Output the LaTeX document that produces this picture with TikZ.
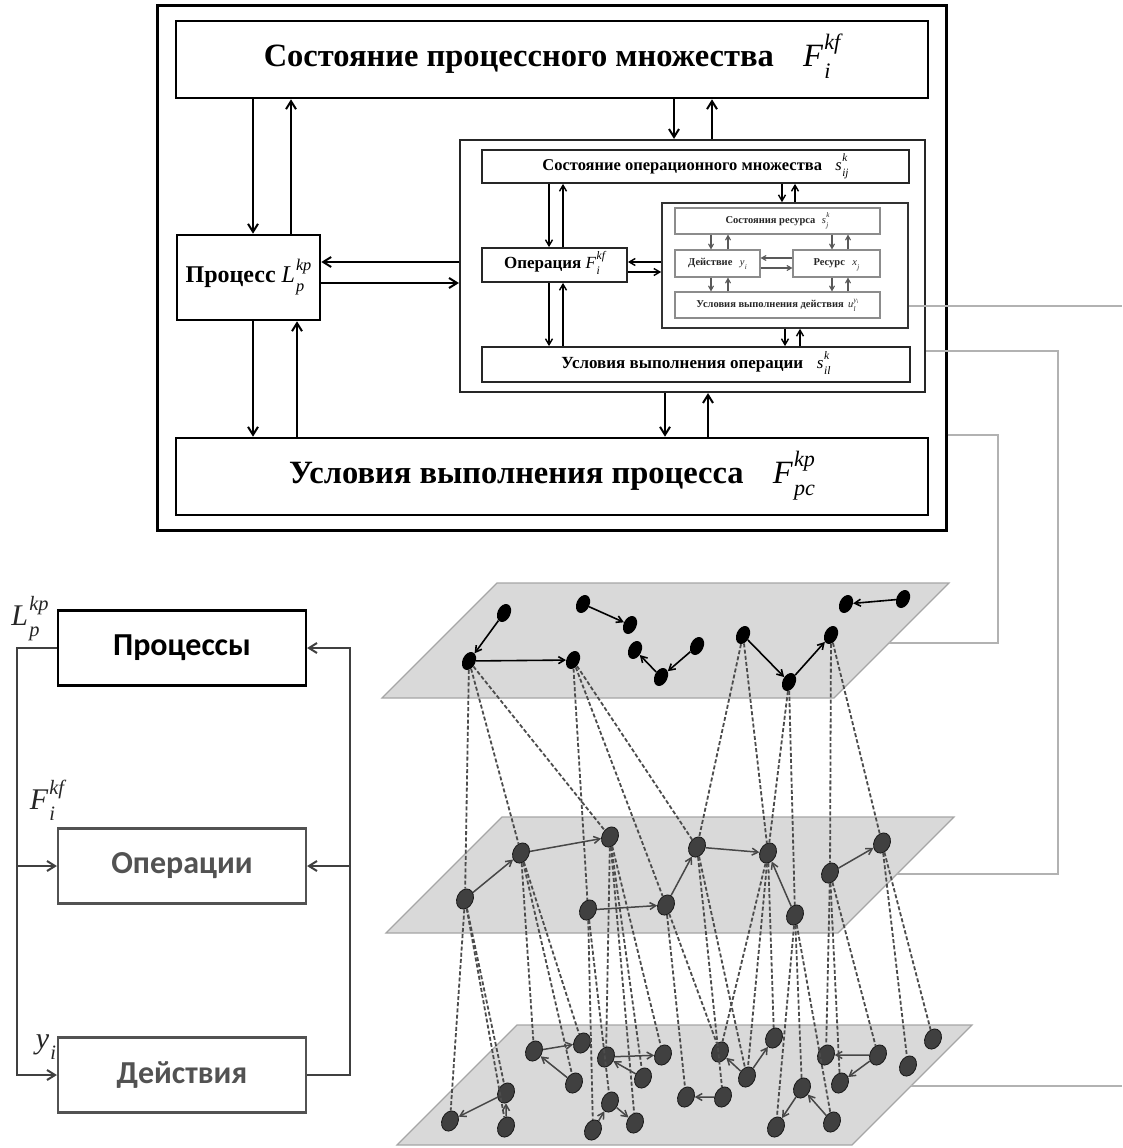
\documentclass[tikz,border=0pt]{standalone}
\usepackage{fontspec}
\usepackage{graphicx}
\setmainfont{Liberation Serif}
\newfontfamily\carl{Carlito}
\usetikzlibrary{arrows.meta,shapes.geometric}
\newcommand\xss[3]{{\normalfont\itshape #1}\kern0.04em\ooalign{\raisebox{-0.36em}{\scalebox{0.68}{\normalfont\itshape #2}}\cr\raisebox{0.52em}{\scalebox{0.68}{\normalfont\itshape #3}}\cr}}
\begin{document}
\begin{tikzpicture}[x=1pt,y=-1pt,
 bigbox/.style={draw=black, line width=2.6pt, inner sep=0pt, font=\bfseries\fontsize{32.5}{38}\selectfont},
 obox/.style={draw=black!85, line width=1.8pt, inner sep=0pt, font=\bfseries\fontsize{16.5}{19}\selectfont},
 abox/.style={draw=black!45, line width=1.1pt, inner sep=0pt, font=\bfseries\fontsize{10.5}{12}\selectfont, text=black!85},
 tarr/.style={line width=2pt, -{Straight Barb[length=8pt,width=10pt]}},
 oarr/.style={line width=1.4pt, -{Straight Barb[length=6pt,width=7pt]}},
 aarr/.style={line width=1.1pt, draw=black!65, -{Straight Barb[length=4.5pt,width=5pt]}},
 gcon/.style={draw=black!30, line width=1.2pt},
 gtip/.style={-{Stealth[length=6pt,width=5pt,color=black!75]}},
 plane/.style={fill=black!15, draw=black!35, line width=1.2pt},
 n1/.style={ellipse, fill=black, minimum width=13pt, minimum height=19pt, inner sep=0pt, rotate=-25},
 n2/.style={ellipse, fill=black!75, draw=black!90, line width=0.8pt, minimum width=16pt, minimum height=21pt, inner sep=0pt, rotate=-25},
 parr/.style={line width=1.6pt, -{Straight Barb[length=6pt,width=7pt]}},
 parr2/.style={line width=1.5pt, draw=black!72, -{Straight Barb[length=6pt,width=7pt]}},
 dl/.style={draw=black!70, line width=1.8pt, dash pattern=on 4pt off 2.2pt},
 lbox/.style={draw, line width=2.2pt, minimum width=248pt, minimum height=75pt, inner sep=0pt, font=\carl\bfseries\fontsize{32}{36}\selectfont},
 larr/.style={line width=2pt, draw=black!75, -{Straight Barb[length=8pt,width=10pt]}},
 mlab/.style={inner sep=0pt, font=\fontsize{30}{34}\selectfont, text=black!85}
]
\useasboundingbox (0,0) rectangle (1122,1148);
\fill[white] (0,0) rectangle (1122,1148);

% ---------- upper block ----------
\node[draw, line width=3pt, minimum width=789pt, minimum height=524pt] (outer) at (551.5,268) {};
\node[bigbox, minimum width=752pt, minimum height=77pt] (top) at (552,59.5)
  {Состояние процессного множества\hspace{0.9em}\xss{F}{i}{kf}};
\node[bigbox, minimum width=143pt, minimum height=85pt, font=\bfseries\fontsize{24}{28}\selectfont] (proc) at (248.5,277.5)
  {Процесс \xss{L}{p}{kp}};
\node[bigbox, minimum width=752pt, minimum height=77pt] (bot) at (552,476.5)
  {Условия выполнения процесса\hspace{0.9em}\xss{F}{pc}{kp}};
\node[draw=black!85, line width=2.2pt, minimum width=465pt, minimum height=252pt] (inner) at (692.5,266) {};
\node[obox, minimum width=427pt, minimum height=33pt] (osub) at (695.5,166.5)
  {Состояние операционного множества\hspace{0.8em}\xss{s}{ij}{k}};
\node[obox, minimum width=145pt, minimum height=34pt, font=\bfseries\fontsize{17}{20}\selectfont] (oper) at (554.5,265)
  {Операция \xss{F}{i}{kf}};
\node[obox, minimum width=428pt, minimum height=35pt, font=\bfseries\fontsize{17}{20}\selectfont] (uco) at (696,364.5)
  {Условия выполнения операции\hspace{0.8em}\xss{s}{il}{k}};
\node[draw=black!80, line width=1.6pt, minimum width=246pt, minimum height=125pt] (act) at (785,265.5) {};
\node[abox, minimum width=205pt, minimum height=26pt] (sres) at (777.5,221)
  {Состояния ресурса\hspace{0.6em}\xss{s}{j}{k}};
\node[abox, minimum width=85pt, minimum height=27pt] (deis) at (717.5,263.5)
  {Действие\hspace{0.7em}\xss{y}{i}{}};
\node[abox, minimum width=87pt, minimum height=27pt] (res) at (836.5,263.5)
  {Ресурс\hspace{0.7em}\xss{x}{j}{}};
\node[abox, minimum width=205pt, minimum height=26pt] (ucd) at (777.5,305)
  {Условия выполнения действия\hspace{0.4em}\xss{u}{l}{y\textsubscript{i}}};

% top-level arrows
\draw[tarr] (253,0 |- top.south) -- (253,0 |- proc.north);
\draw[tarr] (291,0 |- proc.north) -- (291,0 |- top.south);
\draw[tarr] (253,0 |- proc.south) -- (253,0 |- bot.north);
\draw[tarr] (297,0 |- bot.north) -- (297,0 |- proc.south);
\draw[tarr] (674,0 |- top.south) -- (674,0 |- inner.north);
\draw[tarr] (712,0 |- inner.north) -- (712,0 |- top.south);
\draw[tarr] (665,0 |- inner.south) -- (665,0 |- bot.north);
\draw[tarr] (708,0 |- bot.north) -- (708,0 |- inner.south);
\draw[tarr] (inner.west |- 0,262) -- (proc.east |- 0,262);
\draw[tarr] (proc.east |- 0,283) -- (inner.west |- 0,283);

% operation-level arrows
\draw[oarr] (549,0 |- osub.south) -- (549,0 |- oper.north);
\draw[oarr] (563,0 |- oper.north) -- (563,0 |- osub.south);
\draw[oarr] (549,0 |- oper.south) -- (549,0 |- uco.north);
\draw[oarr] (563,0 |- uco.north) -- (563,0 |- oper.south);
\draw[oarr] (782,0 |- osub.south) -- (782,0 |- act.north);
\draw[oarr] (795,0 |- act.north) -- (795,0 |- osub.south);
\draw[oarr] (785,0 |- act.south) -- (785,0 |- uco.north);
\draw[oarr] (800,0 |- uco.north) -- (800,0 |- act.south);
\draw[oarr] (act.west |- 0,262) -- (oper.east |- 0,262);
\draw[oarr] (oper.east |- 0,272) -- (act.west |- 0,272);

% action-level arrows
\draw[aarr] (711,0 |- sres.south) -- (711,0 |- deis.north);
\draw[aarr] (728,0 |- deis.north) -- (728,0 |- sres.south);
\draw[aarr] (832,0 |- sres.south) -- (832,0 |- res.north);
\draw[aarr] (848,0 |- res.north) -- (848,0 |- sres.south);
\draw[aarr] (711,0 |- deis.south) -- (711,0 |- ucd.north);
\draw[aarr] (728,0 |- ucd.north) -- (728,0 |- deis.south);
\draw[aarr] (832,0 |- res.south) -- (832,0 |- ucd.north);
\draw[aarr] (848,0 |- ucd.north) -- (848,0 |- res.south);
\draw[aarr] (res.west |- 0,258) -- (deis.east |- 0,258);
\draw[aarr] (deis.east |- 0,268) -- (res.west |- 0,268);

% ---------- planes ----------
\path[plane] (497,583) -- (949,583) -- (834,698) -- (382,698) -- cycle;
\path[plane] (502,817) -- (954,817) -- (838,933) -- (386,933) -- cycle;
\path[plane] (517,1025) -- (972,1025) -- (852,1145) -- (397,1145) -- cycle;
\coordinate (p1r) at (889,643);
\coordinate (p2r) at (897,874);
\coordinate (p3r) at (911,1086);

% gray connectors
\coordinate (e1) at (1122,306);
\coordinate (e4) at (1122,1086);
\draw[gcon] (act.east |- 0,306) -- (e1);
\draw[gcon] (inner.east |- 0,351) -- (1058,351) -- (1058,874) -- (p2r);
\draw[gcon] (outer.east |- 0,435) -- (998,435) -- (998,643) -- (p1r);
\draw[gcon] (e4) -- (p3r);
\path[gtip] (1000,874) -- (p2r);
\path[gtip] (950,643) -- (p1r);
\path[gtip] (1000,1086) -- (p3r);

% plane 1 nodes
\foreach \n/\x/\y in {a1/504/613,a2/469/661,a3/573/660,a4/583/604,a5/630/625,a6/635/650,a7/661/677,a8/697/646,a9/743/635,a10/789/682,a11/831/635,a12/846/604,a13/903/599}
  \node[n1] (\n) at (\x,\y) {};
% plane 2 nodes
\foreach \n/\x/\y in {b1/465/899,b2/521/853,b3/610/837,b4/588/910,b5/666/905,b6/697/847,b7/768/853,b8/795/915,b9/830/873,b10/882/843}
  \node[n2] (\n) at (\x,\y) {};
% plane 3 nodes
\foreach \n/\x/\y in {c1/450/1121,c2/506/1093,c3/506/1127,c4/534/1051,c5/582/1043,c6/574/1083,c7/606/1057,c8/663/1055,c9/643/1078,c10/610/1102,c11/593/1130,c12/635/1123,c13/686/1097,c14/723/1097,c15/720/1052,c16/747/1077,c17/774/1038,c18/802/1088,c19/776/1127,c20/832/1122,c21/826/1055,c22/878/1055,c23/840/1083,c24/908/1066,c25/933/1039}
  \node[n2] (\n) at (\x,\y) {};

% dashed links plane 1 -> plane 2
\foreach \s/\t in {a2/b1,a2/b2,a2/b3,a3/b4,a3/b5,a3/b6,a9/b6,a9/b7,a10/b7,a10/b8,a11/b9,a11/b10}
  \draw[dl] (\s) -- (\t);
% dashed links plane 2 -> plane 3
\foreach \s/\t in {b1/c1,b1/c2,b1/c3,b2/c4,b2/c6,b2/c5,b4/c11,b4/c10,b3/c7,b3/c12,b3/c9,b3/c8,b5/c13,b5/c15,b6/c14,b6/c16,b7/c15,b7/c16,b7/c17,b8/c19,b8/c18,b8/c20,b9/c21,b9/c23,b9/c22,b10/c24,b10/c25}
  \draw[dl] (\s) -- (\t);

% arrows inside planes
\foreach \s/\t in {a1/a2,a2/a3,a4/a5,a8/a7,a7/a6,a9/a10,a10/a11,a13/a12}
  \draw[parr] (\s) -- (\t);
\foreach \s/\t in {b1/b2,b2/b3,b4/b5,b5/b6,b6/b7,b8/b7,b9/b10}
  \draw[parr2] (\s) -- (\t);
\foreach \s/\t in {c2/c1,c3/c2,c4/c5,c6/c4,c7/c8,c9/c7,c11/c10,c10/c12,c14/c13,c16/c15,c16/c17,c18/c19,c20/c18,c22/c21,c22/c23}
  \draw[parr2] (\s) -- (\t);

% ---------- left diagram ----------
\node[lbox] (lp) at (182,648) {Процессы};
\node[lbox, draw=black!68, text=black!68] (lo) at (182,866) {Операции};
\node[lbox, draw=black!68, text=black!68] (ld) at (182,1075) {Действия};
\draw[larr] (lp.west) -- (17,0 |- lp.west) -- (17,0 |- ld.west) -- (ld.west);
\draw[larr] (17,0 |- lo.west) -- (lo.west);
\draw[larr] (ld.east) -- (350,0 |- ld.east) -- (350,0 |- lp.east) -- (lp.east);
\draw[larr] (350,0 |- lo.east) -- (lo.east);
\node[mlab] (llab) at (30,616) {\xss{L}{p}{kp}};
\node[mlab] (flab) at (47,800) {\xss{F}{i}{kf}};
\node[mlab] (ylab) at (46,1045) {\xss{y}{i}{}};
\end{tikzpicture}
\end{document}
